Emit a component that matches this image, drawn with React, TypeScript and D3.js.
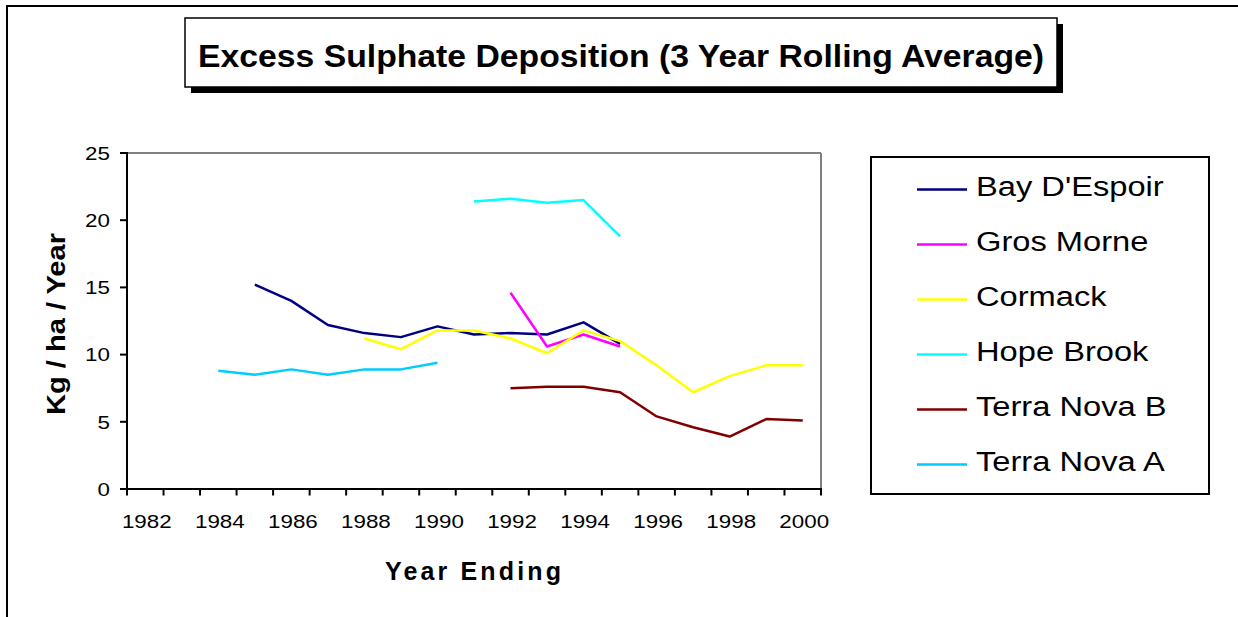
import React from "react";
import * as d3 from "d3";

const years = [
  1982, 1983, 1984, 1985, 1986, 1987, 1988, 1989, 1990, 1991, 1992, 1993,
  1994, 1995, 1996, 1997, 1998, 1999, 2000,
];

// values per year, null where the station has no data
const bayDEspoir = [null, null, null, 15.2, 14.0, 12.2, 11.6, 11.3, 12.1, 11.5, 11.6, 11.5, 12.4, 10.8, null, null, null, null, null];
const grosMorne = [null, null, null, null, null, null, null, null, null, null, 14.6, 10.6, 11.5, 10.6, null, null, null, null, null];
const cormack = [null, null, null, null, null, null, 11.2, 10.4, 11.8, 11.8, 11.2, 10.1, 11.8, 11.0, 9.2, 7.2, 8.4, 9.2, 9.2];
const hopeBrook = [null, null, null, null, null, null, null, null, null, 21.4, 21.6, 21.3, 21.5, 18.8, null, null, null, null, null];
const terraNovaB = [null, null, null, null, null, null, null, null, null, null, 7.5, 7.6, 7.6, 7.2, 5.4, 4.6, 3.9, 5.2, 5.1];
const terraNovaA = [null, null, 8.8, 8.5, 8.9, 8.5, 8.9, 8.9, 9.4, null, null, null, null, null, null, null, null, null, null];

const seriesNames = ["Bay D'Espoir", "Gros Morne", "Cormack", "Hope Brook", "Terra Nova B", "Terra Nova A"];
const seriesColors = ["#000080", "#FF00FF", "#FFFF00", "#00FFFF", "#800000", "#00CCFF"];
const seriesValues = [bayDEspoir, grosMorne, cormack, hopeBrook, terraNovaB, terraNovaA];

const yTicks = [0, 5, 10, 15, 20, 25];
const xLabelYears = [1982, 1984, 1986, 1988, 1990, 1992, 1994, 1996, 1998, 2000];

const title = "Excess Sulphate Deposition (3 Year Rolling Average)";
const yTitle = "Kg / ha / Year";
const xTitle = "Year Ending";

const W = 1238;
const H = 617;
const plot = { left: 127, right: 821, top: 153, bottom: 489 };
const SX = 1.21; // the source text is drawn a bit wide

const App = () => {
  const x = d3
    .scaleBand<number>()
    .domain(years)
    .range([plot.left, plot.right])
    .padding(0);
  const y = d3.scaleLinear().domain([0, 25]).range([plot.bottom, plot.top]);
  const cx = (yr: number) => (x(yr) as number) + x.bandwidth() / 2;

  const line = d3
    .line<number | null>()
    .defined((d) => d !== null)
    .x((d, i) => cx(years[i]))
    .y((d) => y(d as number));

  const boundaries = years.map((yr) => x(yr) as number).concat([plot.right]);

  const legend = { left: 871, top: 157, right: 1209, bottom: 494, row0: 189.5, step: 55 };

  return (
    <svg
      width={W}
      height={H}
      style={{ position: "absolute", left: 0, top: 0, background: "#fff" }}
      fontFamily="'Liberation Sans', Arial, sans-serif"
    >
      <rect x={0} y={0} width={W} height={H} fill="#fff" />
      {/* outer chart frame (only left and top visible) */}
      <rect x={7} y={6} width={W + 20} height={H + 20} fill="none" stroke="#000" strokeWidth={2} />

      {/* title box with shadow */}
      <rect x={191} y={24} width={872} height={69} fill="#000" />
      <rect x={185} y={18} width={872} height={69} fill="#fff" stroke="#000" strokeWidth={1.5} />
      <text
        x={198}
        y={66.5}
        fontSize={32}
        fontWeight="bold"
        textLength={846}
        lengthAdjust="spacingAndGlyphs"
      >
        {title}
      </text>

      {/* plot frame */}
      <line x1={plot.left} x2={plot.right} y1={plot.top} y2={plot.top} stroke="#808080" strokeWidth={2} />
      <line x1={plot.right} x2={plot.right} y1={plot.top} y2={plot.bottom} stroke="#808080" strokeWidth={2} />
      <line x1={plot.left} x2={plot.left} y1={plot.top - 1} y2={plot.bottom} stroke="#000" strokeWidth={2} />
      <line x1={plot.left - 1} x2={plot.right + 1} y1={plot.bottom} y2={plot.bottom} stroke="#000" strokeWidth={2} />

      {/* y axis */}
      {yTicks.map((t) => (
        <g key={"y" + t}>
          <line x1={plot.left - 7} x2={plot.left} y1={y(t)} y2={y(t)} stroke="#000" strokeWidth={2} />
          <g transform={`translate(110,${y(t) + 6.7}) scale(${SX},1)`}>
            <text textAnchor="end" fontSize={18.5}>
              {t}
            </text>
          </g>
        </g>
      ))}

      {/* x axis */}
      {boundaries.map((bx, i) => (
        <line key={"xt" + i} x1={bx} x2={bx} y1={plot.bottom} y2={plot.bottom + 6.5} stroke="#000" strokeWidth={2} />
      ))}
      {xLabelYears.map((yr) => (
        <g key={"xl" + yr} transform={`translate(${cx(yr) + 1.5},528.3) scale(${SX},1)`}>
          <text textAnchor="middle" fontSize={18.5}>
            {yr}
          </text>
        </g>
      ))}

      {/* axis titles */}
      <text
        transform="translate(65,324) rotate(-90)"
        textAnchor="middle"
        fontSize={25}
        fontWeight="bold"
        textLength={182}
        lengthAdjust="spacingAndGlyphs"
      >
        {yTitle}
      </text>
      <text
        x={385}
        y={580}
        fontSize={25}
        fontWeight="bold"
        textLength={176}
        lengthAdjust="spacing"
      >
        {xTitle}
      </text>

      {/* series */}
      {seriesValues.map((vals, i) => (
        <path
          key={"s" + i}
          d={line(vals) || ""}
          fill="none"
          stroke={seriesColors[i]}
          strokeWidth={2.5}
          strokeLinejoin="round"
        />
      ))}

      {/* legend */}
      <rect
        x={legend.left}
        y={legend.top}
        width={legend.right - legend.left}
        height={legend.bottom - legend.top}
        fill="#fff"
        stroke="#000"
        strokeWidth={2}
      />
      {seriesNames.map((name, i) => {
        const ly = legend.row0 + i * legend.step;
        return (
          <g key={"lg" + i}>
            <line x1={917} x2={967} y1={ly} y2={ly} stroke={seriesColors[i]} strokeWidth={2.5} />
            <g transform={`translate(976,${ly + 6.8}) scale(${SX},1)`}>
              <text fontSize={27}>{name}</text>
            </g>
          </g>
        );
      })}
    </svg>
  );
};

export default App;
